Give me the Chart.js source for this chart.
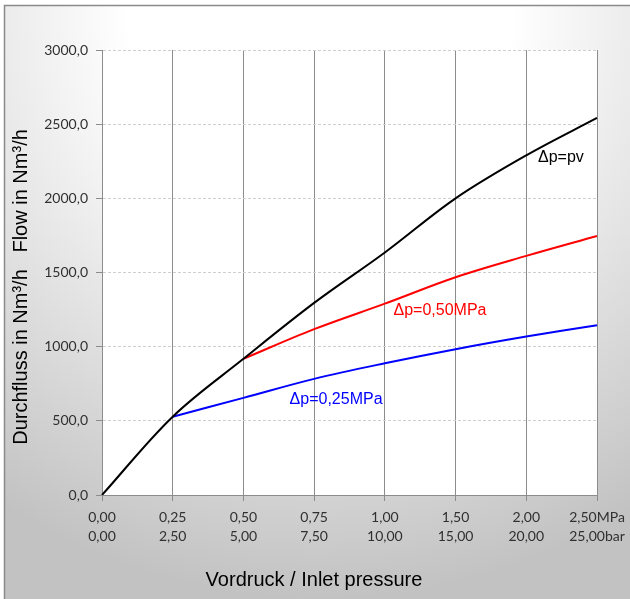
<!DOCTYPE html>
<html>
<head>
<meta charset="utf-8">
<script src="https://cdn.jsdelivr.net/npm/chart.js@4/dist/chart.umd.min.js"></script>
<style>
  html, body { margin: 0; padding: 0; background: #ffffff; }
  #wrap { width: 630px; height: 599px; }
</style>
</head>
<body>
<div id="wrap"><canvas id="c" width="630" height="599"></canvas></div>
<script>
// ---- data ----
const mpaLabels = ["0,00", "0,25", "0,50", "0,75", "1,00", "1,50", "2,00", "2,50"];
const barLabels = ["0,00", "2,50", "5,00", "7,50", "10,00", "15,00", "20,00", "25,00"];
const unitLabels = ["MPa", "bar"];
const flowPv   = [0, 528, 918, 1295, 1635, 2000, 2290, 2542];
const flow050  = [null, null, 918, 1118, 1290, 1468, 1612, 1746];
const flow025  = [null, 528, 655, 783, 888, 983, 1068, 1145];
const seriesNames = ["Δp=pv", "Δp=0,50MPa", "Δp=0,25MPa"];
const seriesColors = ["#000000", "#ff0000", "#0000ff"];
// annotation anchor (category index, flow value) for each curve label
const noteX = [6.49, 4.78, 3.31];
const noteY = [2272, 1240, 640];
const yTitle = "Durchfluss in Nm³/h   Flow in Nm³/h";
const xTitle = "Vordruck / Inlet pressure";

const tickFont = { family: "Lato, 'Open Sans', sans-serif", size: 14, lineHeight: 1.36 };
const X_TICK_LEN = 6, X_TICK_PAD = 7;

const bgPlugin = {
  id: 'bg',
  beforeDraw(chart) {
    const ctx = chart.ctx, W = chart.width, H = chart.height;
    ctx.save();
    const g = ctx.createRadialGradient(320, 20, 190, 320, 20, 580);
    g.addColorStop(0, '#ffffff');
    g.addColorStop(1, '#c2c2c2');
    ctx.fillStyle = g;
    ctx.fillRect(0, 0, W, H);
    ctx.fillStyle = '#ffffff';
    ctx.fillRect(0, 0, W, 5);
    ctx.fillRect(0, 0, 4, H);
    ctx.strokeStyle = '#8a8a8a';
    ctx.lineWidth = 1.5;
    ctx.strokeRect(4.5, 5.5, W + 20, H + 20);
    const a = chart.chartArea;
    ctx.fillStyle = '#ffffff';
    ctx.fillRect(a.left, a.top, a.right - a.left, a.bottom - a.top);
    ctx.restore();
  },
  afterDraw(chart) {
    const ctx = chart.ctx;
    const xs = chart.scales.x, ys = chart.scales.y;
    ctx.save();
    // curve annotations
    ctx.font = "16px 'Liberation Sans', Arial, sans-serif";
    ctx.textAlign = 'center';
    ctx.textBaseline = 'middle';
    for (let i = 0; i < seriesNames.length; i++) {
      ctx.fillStyle = seriesColors[i];
      ctx.fillText(seriesNames[i], xs.getPixelForValue(noteX[i]), ys.getPixelForValue(noteY[i]));
    }
    // axis titles
    ctx.fillStyle = '#000000';
    ctx.font = "20px 'Liberation Sans', Arial, sans-serif";
    ctx.fillText(xTitle, 314, 580);
    ctx.translate(21, 287);
    ctx.rotate(-Math.PI / 2);
    ctx.fillText(yTitle, 0, 0);
    ctx.restore();
  }
};

const last = mpaLabels.length - 1;
const labels = mpaLabels.map((m, i) => i === last
  ? [m + unitLabels[0], barLabels[i] + unitLabels[1]]
  : [m, barLabels[i]]);

new Chart(document.getElementById('c'), {
  type: 'line',
  data: {
    labels: labels,
    datasets: [
      { data: flowPv,  borderColor: seriesColors[0] },
      { data: flow050, borderColor: seriesColors[1] },
      { data: flow025, borderColor: seriesColors[2] }
    ]
  },
  options: {
    responsive: false,
    animation: false,
    layout: { padding: { top: 50, right: 33, left: 0, bottom: 0 } },
    elements: {
      point: { radius: 0 },
      line: { borderWidth: 2, tension: 0.35, fill: false }
    },
    plugins: { legend: { display: false }, tooltip: { enabled: false } },
    scales: {
      x: {
        type: 'category',
        offset: false,
        grid: { color: '#8c8c8c', lineWidth: 1, tickLength: X_TICK_LEN, tickColor: '#8c8c8c', offset: false },
        border: { color: '#8c8c8c', width: 1 },
        ticks: { font: tickFont, color: '#303030', padding: X_TICK_PAD, maxRotation: 0, autoSkip: false },
        afterFit(s) { s.height = 104; s.paddingLeft = 0; s.paddingRight = 0; }
      },
      y: {
        min: 0, max: 3000,
        grid: { color: '#cfcfcf', lineWidth: 1, tickLength: 6, tickColor: '#8c8c8c' },
        border: { color: '#8c8c8c', width: 1, dash: [3, 2] },
        ticks: {
          stepSize: 500, font: tickFont, color: '#303030', padding: 8,
          callback: v => v.toFixed(1).replace('.', ',')
        },
        afterFit(s) { s.width = 102; s.paddingTop = 0; s.paddingBottom = 0; }
      }
    }
  },
  plugins: [bgPlugin]
});
</script>
</body>
</html>
